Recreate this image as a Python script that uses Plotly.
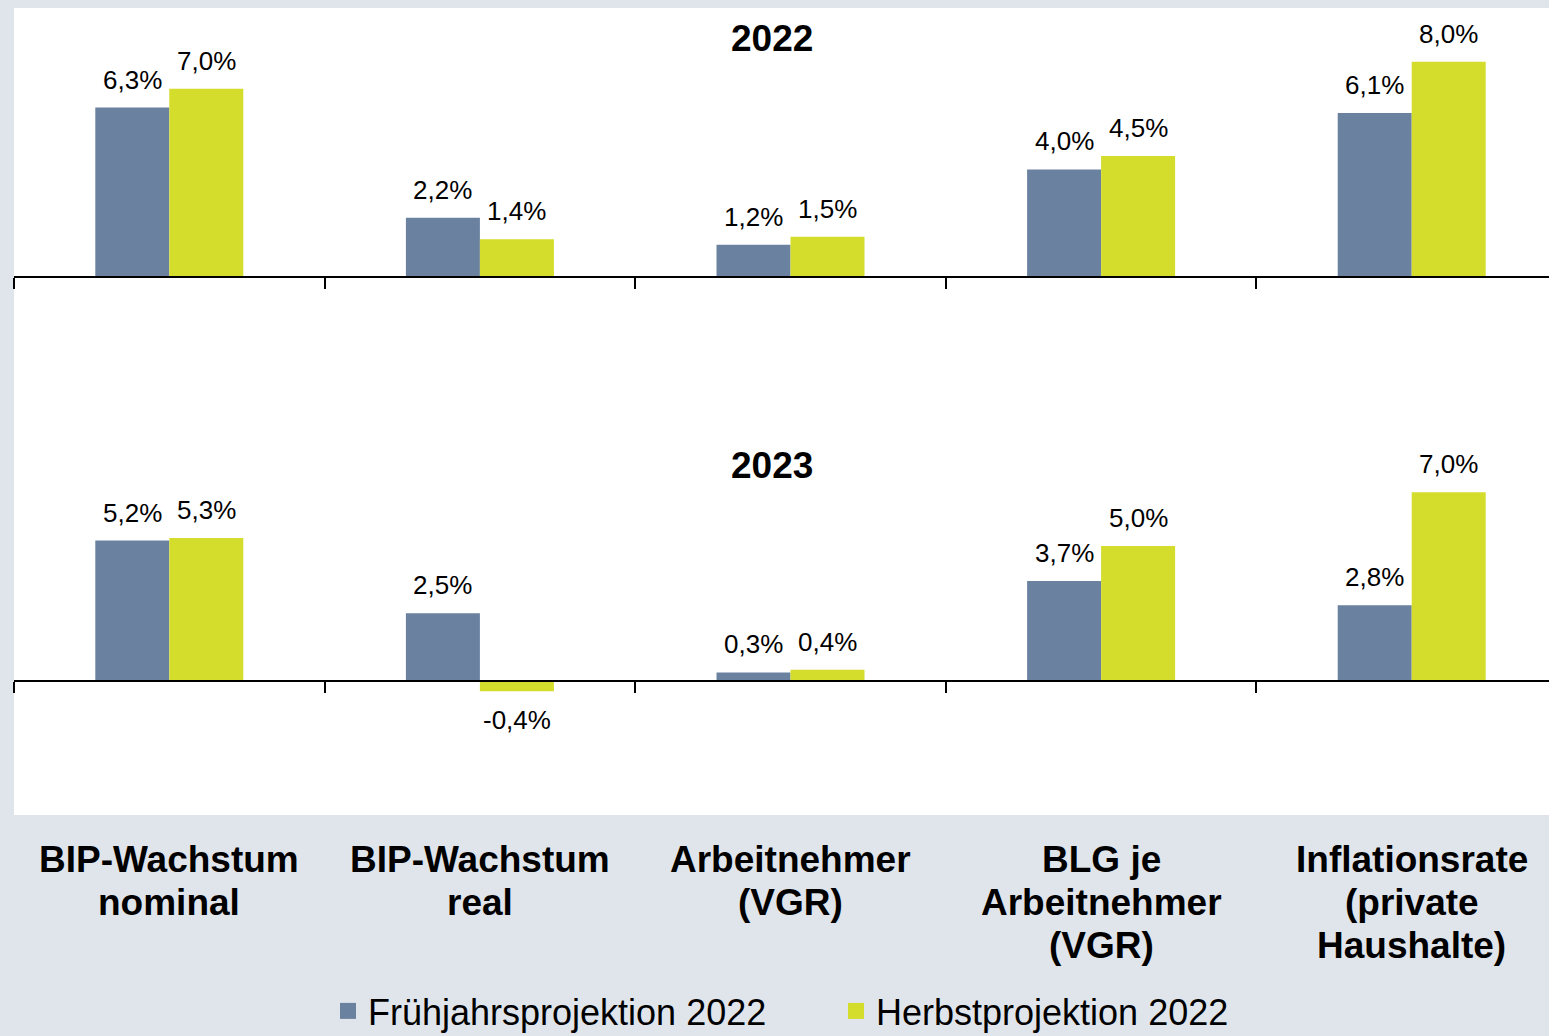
import plotly.graph_objects as go

categories = ["BIP-Wachstum nominal", "BIP-Wachstum real", "Arbeitnehmer (VGR)",
              "BLG je Arbeitnehmer (VGR)", "Inflationsrate (private Haushalte)"]
category_lines = [["BIP-Wachstum", "nominal"], ["BIP-Wachstum", "real"], ["Arbeitnehmer", "(VGR)"],
                  ["BLG je", "Arbeitnehmer", "(VGR)"], ["Inflationsrate", "(private", "Haushalte)"]]
years = ["2022", "2023"]
series_names = ["Frühjahrsprojektion 2022", "Herbstprojektion 2022"]
fruehjahr_2022 = [6.3, 2.2, 1.2, 4.0, 6.1]
herbst_2022 = [7.0, 1.4, 1.5, 4.5, 8.0]
fruehjahr_2023 = [5.2, 2.5, 0.3, 3.7, 2.8]
herbst_2023 = [5.3, -0.4, 0.4, 5.0, 7.0]

BLUE = "#6A829F"
YELLOW = "#D4DC2C"
BG = "#E0E5EC"
FONT = "Liberation Sans, Arial, sans-serif"
COLORS = [BLUE, YELLOW]

W, H = 1549, 1036
ML, MR, MT, MB = 14, 0, 8, 221
plot_h = H - MT - MB
plot_w = W - ML - MR


def py(pix):
    return (H - MB - pix) / plot_h


fig = go.Figure()
panels = [(fruehjahr_2022, herbst_2022, "x", "y"), (fruehjahr_2023, herbst_2023, "x2", "y2")]
for pi, (fr, he, xa, ya) in enumerate(panels):
    for si, vals in enumerate([fr, he]):
        fig.add_trace(go.Bar(
            x=categories, y=vals, name=series_names[si], marker=dict(color=COLORS[si], line=dict(width=0)),
            xaxis=xa, yaxis=ya, showlegend=False, hoverinfo="skip"))
        for c, v in zip(categories, vals):
            label = f"{v:.1f}%".replace(".", ",")
            fig.add_annotation(
                x=c, y=v, xref=xa, yref=ya, text=label, showarrow=False,
                xshift=(-37 if si == 0 else 37),
                yanchor=("bottom" if v >= 0 else "top"),
                yshift=(11 if v >= 0 else -12),
                font=dict(family=FONT, size=26, color="black"))

# legend entries
for si, nm in enumerate(series_names):
    fig.add_trace(go.Scatter(x=[None], y=[None], mode="markers", name=nm,
                             marker=dict(symbol="square", size=18, color=COLORS[si]),
                             xaxis="x2", yaxis="y2", showlegend=True, hoverinfo="skip"))

for yr, ypix in zip(years, [38, 465]):
    fig.add_annotation(x=(771.5 - ML) / plot_w, y=py(ypix), xref="paper", yref="paper",
                       text=f"<b>{yr}</b>", showarrow=False, xanchor="center", yanchor="middle",
                       font=dict(family=FONT, size=37, color="black"))

for c, lines in zip(categories, category_lines):
    for li, ln in enumerate(lines):
        fig.add_annotation(x=c, xref="x2", y=py(859 + 43 * li), yref="paper",
                           text=f"<b>{ln}</b>", showarrow=False, xanchor="center", yanchor="middle",
                           font=dict(family=FONT, size=37, color="black"))

fig.add_shape(type="rect", xref="paper", yref="paper", x0=0, x1=1, y0=0, y1=1,
              fillcolor="white", line=dict(width=0), layer="below")

xcommon = dict(type="category", range=[-0.5, 4.442], showline=True, linecolor="black", linewidth=2,
               ticks="outside", tickson="boundaries", ticklen=11, tickwidth=1.5, tickcolor="black",
               showticklabels=False, showgrid=False, zeroline=False, fixedrange=True,
               categoryorder="array", categoryarray=categories)
ycommon = dict(range=[-5, 10], visible=False, showgrid=False, zeroline=False, fixedrange=True)

fig.update_layout(
    width=W, height=H,
    margin=dict(l=ML, r=MR, t=MT, b=MB, pad=0, autoexpand=False),
    paper_bgcolor=BG, plot_bgcolor="white",
    barmode="group", bargap=0.5235, bargroupgap=0,
    xaxis=dict(xcommon, anchor="free", position=2 / 3),
    xaxis2=dict(xcommon, anchor="free", position=1 / 6),
    yaxis=dict(ycommon, domain=[0.5, 1], anchor="x"),
    yaxis2=dict(ycommon, domain=[0, 0.5], anchor="x2"),
    legend=dict(orientation="h", x=(328 - ML) / plot_w, xanchor="left",
                y=py(1011), yanchor="middle",
                font=dict(family=FONT, size=36, color="black"), bgcolor="rgba(0,0,0,0)",
                entrywidth=463, entrywidthmode="pixels", itemwidth=30),
    font=dict(family=FONT, color="black"),
    showlegend=True,
)

fig.write_html("out.html", config={"displayModeBar": False},
               post_script="document.body.style.margin='0';document.body.style.overflow='hidden';")
